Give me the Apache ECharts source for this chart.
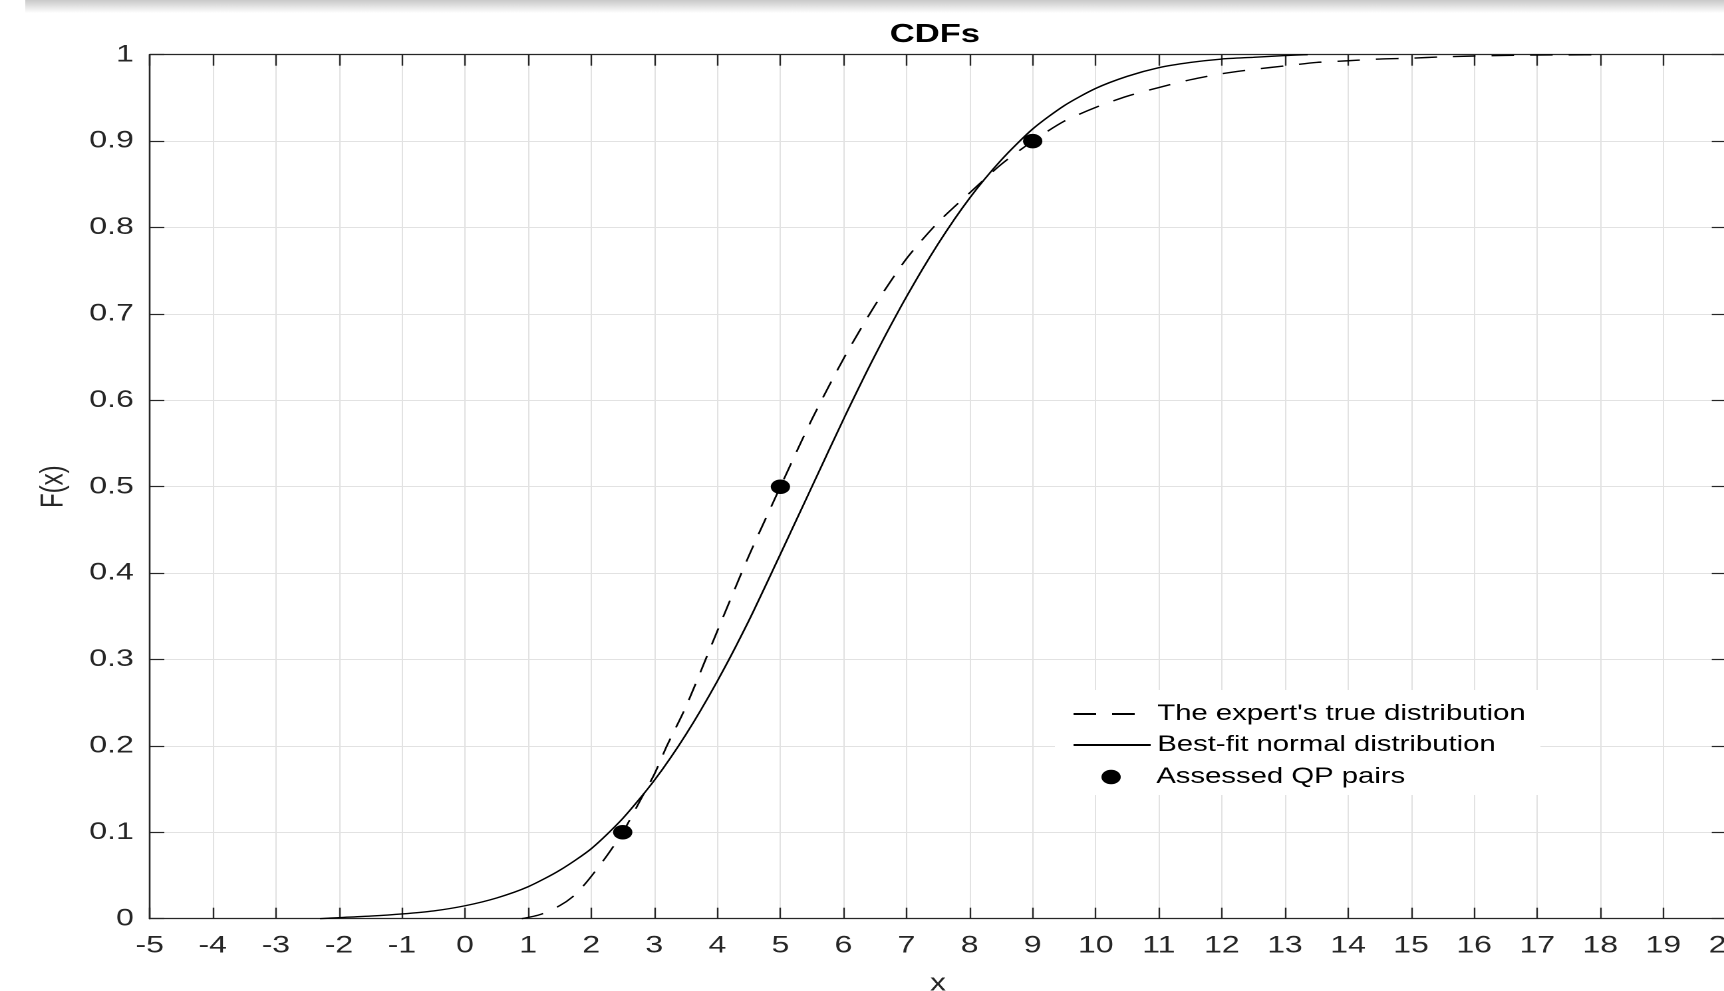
<!DOCTYPE html>
<html>
<head>
<meta charset="utf-8">
<script src="https://cdn.jsdelivr.net/npm/echarts@6.0.0/dist/echarts.min.js"></script>
<style>
html,body{margin:0;padding:0;background:#fff;overflow:hidden;width:1724px;height:991px;}
#chart{width:1296px;height:991px;transform:scaleX(1.33025);transform-origin:0 0;}
</style>
</head>
<body>
<div id="chart"></div>
<script>
// ---- data ----
const chartTitle = 'CDFs';
const xName = 'x';
const yName = 'F(x)';
const xMin = -5, xMax = 20, xStep = 1;
const yMin = 0, yMax = 1, yStep = 0.1;
const xTickLabels = ['-5','-4','-3','-2','-1','0','1','2','3','4','5','6','7','8','9','10','11','12','13','14','15','16','17','18','19','20'];
const yTickLabels = ['0','0.1','0.2','0.3','0.4','0.5','0.6','0.7','0.8','0.9','1'];

const seriesNames = ["The expert's true distribution", 'Best-fit normal distribution', 'Assessed QP pairs'];

const expertX = [0.9, 1.2, 1.5, 1.7, 1.9, 2.2, 2.5, 2.8, 3.0, 3.2, 3.5, 4.0, 4.5, 5.0, 5.5, 6.0, 6.5, 7.0, 7.5, 8.0, 8.5, 9.0, 9.5, 10.0, 10.5, 11.0, 11.5, 12.0, 12.5, 13.0, 13.5, 14.0, 14.5, 15.0, 15.5, 16.0, 16.5, 17.0, 17.5, 18.07];
const expertF = [0, 0.005, 0.015, 0.025, 0.04, 0.068, 0.1, 0.14, 0.167, 0.2, 0.245, 0.333, 0.42, 0.5, 0.578, 0.648, 0.71, 0.764, 0.806, 0.84, 0.873, 0.9, 0.923, 0.939, 0.952, 0.962, 0.971, 0.978, 0.983, 0.987, 0.991, 0.993, 0.995, 0.996, 0.9975, 0.9985, 0.9992, 0.9996, 0.9998, 1.0];

const normalX = [-2.3, -2, -1.5, -1, -0.5, 0, 0.5, 1, 1.5, 2, 2.5, 3, 3.5, 4, 4.5, 5, 5.5, 6, 6.5, 7, 7.5, 8, 8.5, 9, 9.5, 10, 10.5, 11, 11.5, 12, 12.5, 13, 13.36];
const normalF = [0, 0.0012, 0.003, 0.0055, 0.009, 0.015, 0.024, 0.037, 0.056, 0.081, 0.116, 0.16, 0.213, 0.275, 0.345, 0.422, 0.5, 0.578, 0.652, 0.72, 0.781, 0.834, 0.878, 0.914, 0.941, 0.961, 0.975, 0.985, 0.991, 0.995, 0.997, 0.999, 1.0];

const qpX = [2.5, 5, 9];
const qpF = [0.1, 0.5, 0.9];

// ---- chart ----
const FONT = "'Liberation Sans', Arial, Helvetica, sans-serif";
const INK = '#262626';
const zip = (a, b) => a.map((v, i) => [v, b[i]]);

const chart = echarts.init(document.getElementById('chart'), null, {devicePixelRatio: 2});

const baseX = {
  type: 'value', min: xMin, max: xMax, interval: xStep,
  axisLine: {show: true, onZero: false, lineStyle: {color: INK, width: 1.3}},
  axisTick: {show: true, inside: true, length: 11, lineStyle: {color: INK, width: 1.2}},
};
const baseY = {
  type: 'value', min: yMin, max: yMax, interval: yStep,
  axisLine: {show: true, onZero: false, lineStyle: {color: INK, width: 1.3}},
  axisTick: {show: true, inside: true, length: 11, lineStyle: {color: INK, width: 1.2}},
};

const legendCommon = {
  orient: 'vertical', padding: 0, itemWidth: 58, itemGap: 0,
  textStyle: {fontFamily: FONT, fontSize: 22, color: '#000'},
  selectedMode: false
};
const hiddenSymbol = {color: 'rgba(0,0,0,0)', borderColor: 'rgba(0,0,0,0)', borderWidth: 0};

chart.setOption({
  animation: false,
  backgroundColor: '#fff',
  title: {
    text: chartTitle, left: 702.8, top: 22, textAlign: 'center', padding: 0,
    textStyle: {fontFamily: FONT, fontSize: 26, fontWeight: 'bold', color: '#000'}
  },
  grid: {left: 112.54, top: 54.7, width: 1185.27, height: 864, containLabel: false, outerBoundsMode: 'none'},
  xAxis: [
    Object.assign({}, baseX, {
      position: 'bottom', name: xName, nameLocation: 'middle', nameGap: 53,
      nameTextStyle: {fontFamily: FONT, fontSize: 24, color: INK},
      axisLabel: {show: true, margin: 15, fontFamily: FONT, fontSize: 24, color: INK,
        showMinLabel: true, showMaxLabel: true, hideOverlap: false,
        formatter: v => xTickLabels[Math.round((v - xMin) / xStep)]},
      splitLine: {show: true, lineStyle: {color: '#e2e2e2', width: 1}}
    }),
    Object.assign({}, baseX, {
      position: 'top', axisLabel: {show: false}, splitLine: {show: false}
    })
  ],
  yAxis: [
    Object.assign({}, baseY, {
      position: 'left', name: yName, nameLocation: 'middle', nameGap: 60, nameRotate: 90,
      nameTextStyle: {fontFamily: FONT, fontSize: 24, color: INK},
      axisLabel: {show: true, margin: 12, fontFamily: FONT, fontSize: 24, color: INK,
        showMinLabel: true, showMaxLabel: true,
        formatter: v => yTickLabels[Math.round((v - yMin) / yStep)]},
      splitLine: {show: true, lineStyle: {color: '#e2e2e2', width: 1}}
    }),
    Object.assign({}, baseY, {
      position: 'right', axisLabel: {show: false}, splitLine: {show: false}
    })
  ],
  legend: [
    Object.assign({}, legendCommon, {left: 806, top: 703, itemHeight: 20, itemStyle: hiddenSymbol, data: [seriesNames[0]]}),
    Object.assign({}, legendCommon, {left: 806, top: 734, itemHeight: 20, itemStyle: hiddenSymbol, data: [seriesNames[1]]}),
    Object.assign({}, legendCommon, {left: 828, top: 766, itemHeight: 14.5, data: [seriesNames[2]]})
  ],
  graphic: [
    {
      type: 'rect', z: 1, silent: true,
      shape: {x: 793, y: 690, width: 365, height: 105},
      style: {fill: '#ffffff'}
    },
    {
      type: 'rect', z: 10, silent: true,
      shape: {x: 19, y: 0, width: 1300, height: 13},
      style: {fill: new echarts.graphic.LinearGradient(0, 0, 0, 1, [
        {offset: 0, color: '#c9c9c9'},
        {offset: 0.5, color: '#e4e4e4'},
        {offset: 1, color: '#ffffff'}
      ])}
    }
  ],
  series: [
    {
      name: seriesNames[0], type: 'line', xAxisIndex: 0, yAxisIndex: 0,
      data: zip(expertX, expertF), showSymbol: false, symbol: 'none',
      smooth: 0.25, clip: true,
      lineStyle: {color: '#000', width: 1.4, type: [17, 12]},
      itemStyle: {color: '#000'}
    },
    {
      name: seriesNames[1], type: 'line', xAxisIndex: 0, yAxisIndex: 0,
      data: zip(normalX, normalF), showSymbol: false, symbol: 'none',
      smooth: 0.25, clip: true,
      lineStyle: {color: '#000', width: 1.4, type: 'solid'},
      itemStyle: {color: '#000'}
    },
    {
      name: seriesNames[2], type: 'scatter', xAxisIndex: 0, yAxisIndex: 0,
      data: zip(qpX, qpF), symbol: 'circle', symbolSize: 14.5, z: 3,
      itemStyle: {color: '#000', opacity: 1}
    }
  ]
});
</script>
</body>
</html>
